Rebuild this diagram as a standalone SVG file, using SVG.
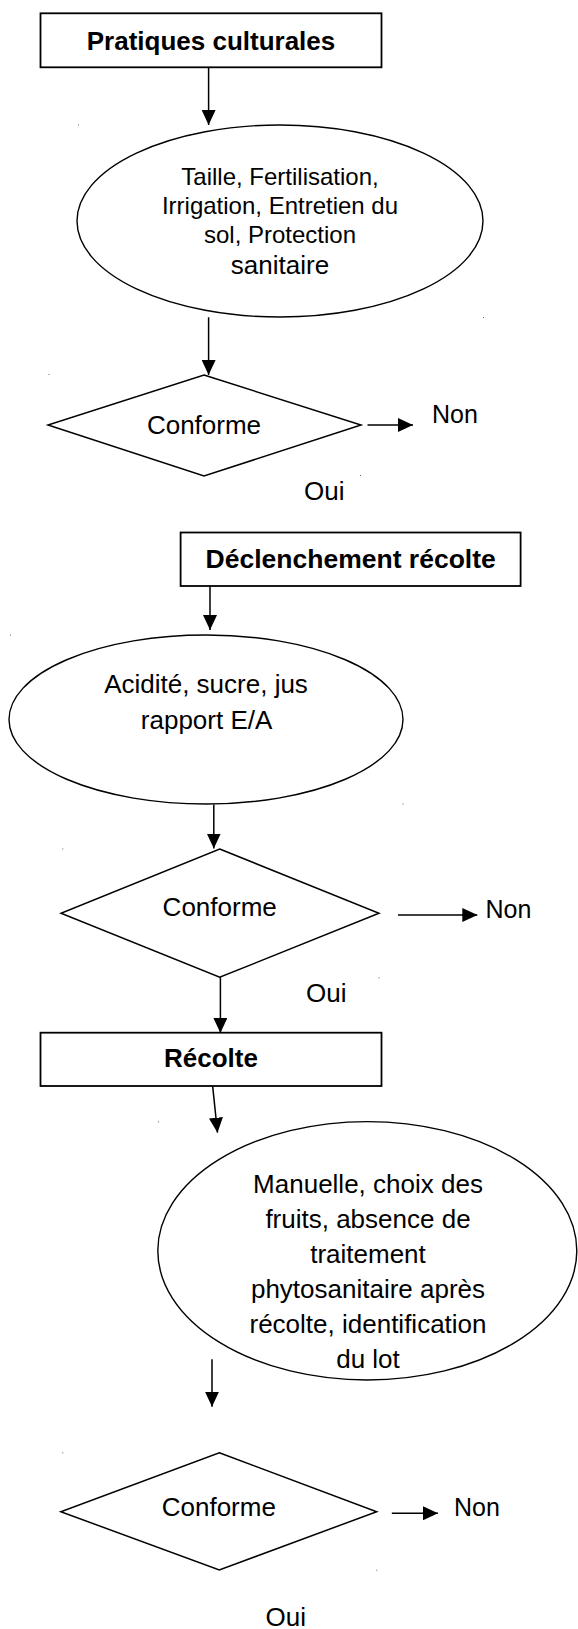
<svg xmlns="http://www.w3.org/2000/svg" width="578" height="1629" viewBox="0 0 578 1629">
<style>
.box{fill:#fff;stroke:#000;stroke-width:1.8}
.ell{fill:#fff;stroke:#000;stroke-width:1.4}
.dia{fill:#fff;stroke:#000;stroke-width:1.5}
.t{font-family:"Liberation Sans",Arial,sans-serif;fill:#000;font-size:26px}
.b{font-weight:bold;text-anchor:middle}
.m{text-anchor:middle}
.s{font-size:24px}
.con line{stroke:#000;stroke-width:1.5;marker-end:url(#ah)}
.dot{fill:#666}
</style>
<defs>
<marker id="ah" markerUnits="userSpaceOnUse" markerWidth="15" markerHeight="14" refX="15" refY="7" orient="auto">
<path d="M0,0 L15,7 L0,14 Z" fill="#000"/>
</marker>
</defs>
<rect width="578" height="1629" fill="#fff"/>
<g id="connectors" class="con">
<line x1="208.6" y1="67.3" x2="208.6" y2="125"/>
<line x1="208.6" y1="317.3" x2="208.6" y2="375"/>
<line x1="367.5" y1="425" x2="413" y2="425"/>
<line x1="210" y1="586" x2="210" y2="630"/>
<line x1="213.8" y1="804.5" x2="213.8" y2="848.5"/>
<line x1="398" y1="915" x2="477.3" y2="915"/>
<line x1="220.4" y1="977.3" x2="220.4" y2="1033"/>
<line x1="210.1" y1="1061.7" x2="217.5" y2="1132.7"/>
<line x1="212" y1="1359.3" x2="212" y2="1406.7"/>
<line x1="391.8" y1="1513.3" x2="438" y2="1513.3"/>
</g>
<g id="n1">
<rect class="box" x="40.5" y="13.3" width="341" height="54"/>
<text class="t b" x="211" y="49.5">Pratiques culturales</text>
</g>
<g id="n2">
<ellipse class="ell" cx="280" cy="221" rx="203" ry="96"/>
<text class="t m s" x="280" y="185">Taille, Fertilisation,</text>
<text class="t m s" x="280" y="213.5">Irrigation, Entretien du</text>
<text class="t m s" x="280" y="242.5">sol, Protection</text>
<text class="t m" x="280" y="273.5">sanitaire</text>
</g>
<g id="n3">
<polygon class="dia" points="204,375 361,425 204,476 48,425"/>
<text class="t m" x="204" y="434">Conforme</text>
</g>
<g id="n3-non"><text class="t" x="432" y="423" style="font-size:25px">Non</text></g>
<g id="n3-oui"><text class="t" x="304" y="500">Oui</text></g>
<g id="n4">
<rect class="box" x="180.6" y="532.5" width="340" height="53.5"/>
<text class="t b" x="350.7" y="567.7" style="font-size:26.5px">Déclenchement récolte</text>
</g>
<g id="n5">
<ellipse class="ell" cx="206" cy="719.5" rx="197" ry="84.5"/>
<text class="t m" x="206" y="693.3">Acidité, sucre, jus</text>
<text class="t m" x="206.6" y="729.3">rapport E/A</text>
</g>
<g id="n6">
<polygon class="dia" points="219.7,849 379,913.3 219.7,977.3 61,913.3"/>
<text class="t m" x="219.7" y="915.7">Conforme</text>
</g>
<g id="n6-non"><text class="t" x="485.5" y="917.7" style="font-size:25px">Non</text></g>
<g id="n6-oui"><text class="t" x="306" y="1002.3">Oui</text></g>
<g id="n7">
<rect class="box" x="40.5" y="1032.7" width="341" height="53.3"/>
<text class="t b" x="211" y="1066.7">Récolte</text>
</g>
<g id="n8">
<ellipse class="ell" cx="367.3" cy="1250.8" rx="209.5" ry="129.2"/>
<text class="t m" x="368" y="1193.3">Manuelle, choix des</text>
<text class="t m" x="368" y="1228.3">fruits, absence de</text>
<text class="t m" x="368" y="1263.3">traitement</text>
<text class="t m" x="368" y="1298.3">phytosanitaire après</text>
<text class="t m" x="368" y="1333.3">récolte, identification</text>
<text class="t m" x="368" y="1368.3">du lot</text>
</g>
<g id="n9">
<polygon class="dia" points="219.3,1452.7 376.7,1511.7 219.3,1570 60.8,1511.7"/>
<text class="t m" x="218.8" y="1516">Conforme</text>
</g>
<g id="n9-non"><text class="t" x="454" y="1516" style="font-size:25px">Non</text></g>
<g id="n9-oui"><text class="t" x="265.5" y="1626.3">Oui</text></g>
<g id="marks" class="dot">
<rect x="78" y="124.5" width="1" height="1"/>
<rect x="483" y="317" width="1" height="1"/>
<rect x="48.5" y="374" width="1" height="1"/>
<rect x="360" y="475" width="1" height="1"/>
<rect x="10" y="634.5" width="1" height="1"/>
<rect x="402.5" y="803.5" width="1" height="1"/>
<rect x="62.3" y="848.5" width="1" height="1"/>
<rect x="378.5" y="977.3" width="1" height="1"/>
<rect x="158" y="1121.3" width="1" height="1"/>
<rect x="62.3" y="1452.3" width="1" height="1"/>
<rect x="376.3" y="1569.7" width="1" height="1"/>
</g>
</svg>
